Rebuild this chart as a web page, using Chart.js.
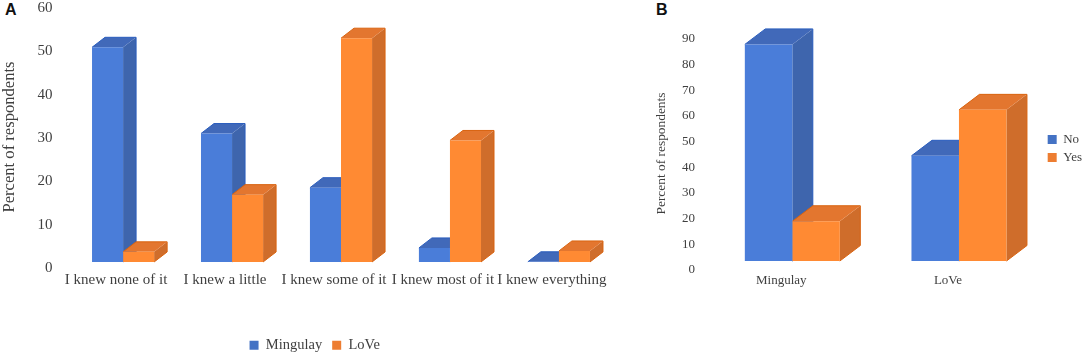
<!DOCTYPE html>
<html><head><meta charset="utf-8">
<script src="https://cdn.jsdelivr.net/npm/chart.js@4"></script>
<style>
html,body{margin:0;padding:0;background:#fff;width:1084px;height:357px;overflow:hidden}
canvas{position:absolute;display:block}
.tag{position:absolute;font:bold 16px "Liberation Sans",Arial,sans-serif;color:#111;line-height:16px}
</style></head><body>
<div class="tag" style="left:5px;top:2px">A</div>
<div class="tag" style="left:656px;top:2px">B</div>
<div style="position:absolute;left:0;top:-20px;width:630px;height:377px"><canvas id="a"></canvas></div>
<div style="position:absolute;left:640px;top:0;width:460px;height:357px"><canvas id="b"></canvas></div>
<script>
const categoriesA = ["I knew none of it","I knew a little","I knew some of it","I knew most of it","I knew everything"];
const minguA = [50.7,30.8,18.3,4.4,1.2];
const loveA  = [3.5,16.7,52.8,29.2,3.7];
const ticksA = {min:0,max:60,step:10};
const categoriesB = ["Mingulay","LoVe"];
const noB  = [87.5,44.1];
const yesB = [18.6,62];
const ticksB = {min:0,max:90,step:10};

const FONT = '"Liberation Serif","Times New Roman",serif';
const TEXT = '#3f3f3f';
const BLUE = {front:'#4a7dd9',side:'#3e65ad',top:'#4169b9',edge:'#2a5dbd',legend:'#4472c4'};
const ORANGE = {front:'#ff8a33',side:'#cf6d2b',top:'#e3762f',edge:'#d9630f',legend:'#ed7d31'};

function depth(dx,dy){
  return {id:'depth',beforeDatasetsDraw(chart){
    const c=chart.ctx;
    chart.getSortedVisibleDatasetMetas().forEach((m,di)=>{
      const col=[BLUE,ORANGE][di];
      m.data.forEach(el=>{
        const {x,y,base,width}=el.getProps(['x','y','base','width'],true);
        const l=x-width/2,r=x+width/2;
        c.save();
        c.fillStyle=col.side;
        c.beginPath();c.moveTo(r,y);c.lineTo(r+dx,y-dy);c.lineTo(r+dx,base-dy);c.lineTo(r,base);c.closePath();c.fill();
        c.fillStyle=col.top;
        c.beginPath();c.moveTo(l,y);c.lineTo(l+dx,y-dy);c.lineTo(r+dx,y-dy);c.lineTo(r,y);c.closePath();c.fill();
        c.strokeStyle=col.edge;c.lineWidth=1;
        c.beginPath();c.moveTo(l,y);c.lineTo(l+dx,y-dy);c.lineTo(r+dx,y-dy);c.lineTo(r+dx,base-dy);c.lineTo(r,base);c.stroke();
        c.restore();
      });
    });
  }};
}
function shiftLegend(sx,sy){
  return {id:'shiftLegend',afterLayout(chart){
    const l=chart.legend;l.left+=sx;l.right+=sx;l.top+=sy;l.bottom+=sy;
  }};
}
function build(id,cats,names,vals,baseVal,tk,o){
  return new Chart(document.getElementById(id),{
    type:'bar',
    data:{labels:cats,datasets:names.map((n,i)=>({
      label:n,data:vals[i],base:baseVal,
      backgroundColor:[BLUE,ORANGE][i].front,borderWidth:0,
      categoryPercentage:0.57,barPercentage:1
    }))},
    plugins:[depth(o.dx,o.dy),shiftLegend(o.lx,o.ly)],
    options:{
      responsive:true,maintainAspectRatio:false,animation:false,
      layout:{padding:o.padding},
      plugins:{tooltip:{enabled:false},legend:{
        position:o.legendPos,
        labels:{color:TEXT,font:{family:FONT,size:o.legendSize},boxWidth:9,boxHeight:9,padding:o.legendPad,
          generateLabels:()=>names.map((n,i)=>({text:n,fillStyle:[BLUE,ORANGE][i].legend,strokeStyle:[BLUE,ORANGE][i].legend,lineWidth:0,fontColor:TEXT,datasetIndex:i}))}
      }},
      scales:{
        x:{grid:{display:false,drawTicks:false},border:{display:false},
          afterFit(s){s.height=o.xHeight;},
          ticks:{color:TEXT,font:{family:FONT,size:o.xSize},padding:o.xPad,labelOffset:o.xOff,maxRotation:0,minRotation:0,autoSkip:false}},
        y:{min:tk.min,max:tk.max,grid:{display:false,drawTicks:false},border:{display:false},
          afterFit(s){
            s.width=o.yWidth;
            if(o.titleShift){const f=s.drawTitle;s.drawTitle=function(){const c=this.ctx;c.save();c.translate(0,o.titleShift);f.call(this);c.restore();};o.titleShift=0;}
          },
          ticks:{stepSize:tk.step,color:TEXT,font:{family:FONT,size:o.ySize},padding:o.yPad,labelOffset:o.yOff},
          title:{display:true,text:'Percent of respondents',color:TEXT,font:{family:FONT,size:o.titleSize},padding:0}}
      }
    }
  });
}
build('a',categoriesA,['Mingulay','LoVe'],[minguA,loveA],1.16,ticksA,{
  dx:13,dy:10,lx:8,ly:5.5,padding:{top:27,left:0,right:16.6,bottom:0},legendPos:'bottom',legendSize:14.5,legendPad:10,
  xHeight:55.5,xSize:15,xPad:4.5,xOff:-7,ySize:15,yPad:16,yOff:1,yWidth:68.6,titleSize:16.6});
build('b',categoriesB,['No','Yes'],[noB,yesB],3.1,ticksB,{
  dx:20.5,dy:15.5,lx:0.4,ly:-49,padding:{top:38,left:13,right:8.3,bottom:0},legendPos:'right',legendSize:13,legendPad:5,
  xHeight:88,xSize:13,xPad:4,xOff:-11,ySize:13,yPad:14,yOff:1,yWidth:56,titleSize:13.4,titleShift:-7});
</script>
</body></html>
